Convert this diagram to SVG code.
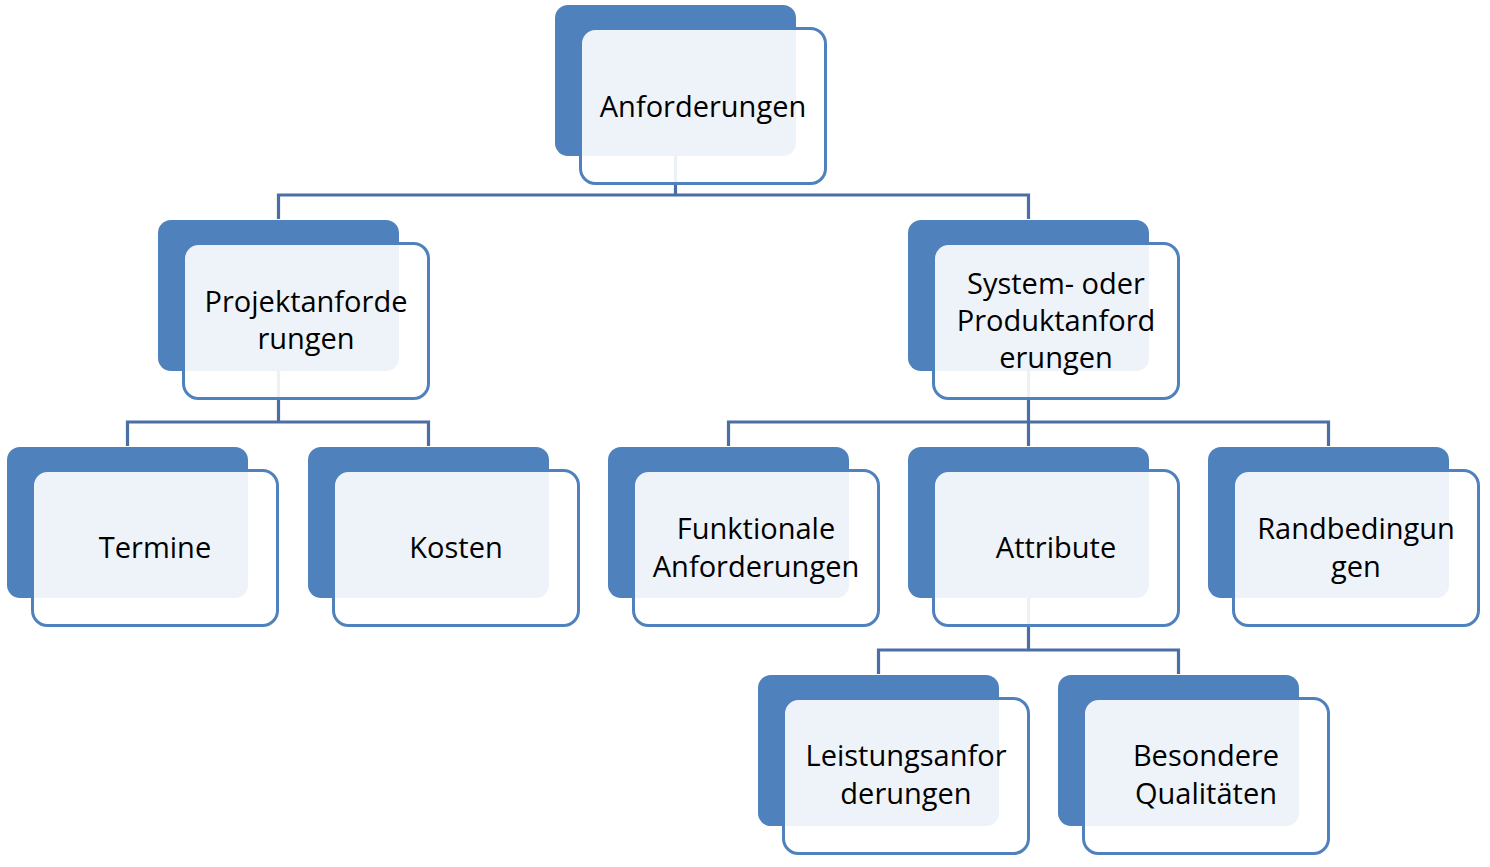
<svg xmlns="http://www.w3.org/2000/svg" width="1490" height="867" viewBox="0 0 1490 867">
<style>
.back{fill:#4F81BD}
.front{fill:#FFFFFF;fill-opacity:0.9;stroke:#4F81BD;stroke-width:3}
.conn{fill:none;stroke:#4A6FA5;stroke-width:3.2}
text{font-family:"Open Sans","Liberation Sans",sans-serif;font-size:29px;fill:#000000;text-anchor:middle}
</style>
<rect width="1490" height="867" fill="#FFFFFF"/>
<g id="connectors">
<path class="conn" d="M675.5,156 V195 M278.5,219 V195 H1028.5 V219"/>
<path class="conn" d="M278.5,371 V422 M127.5,446 V422 H428.5 V446"/>
<path class="conn" d="M1028.5,371 V422 M728.5,446 V422 H1328.5 V446 M1028.5,422 V446"/>
<path class="conn" d="M1028.5,598 V650 M878.5,674 V650 H1178.5 V674"/>
</g>
<g id="n-anforderungen">
<rect class="back" x="555" y="5" width="241" height="151" rx="13"/>
<rect class="front" x="580.5" y="28.5" width="245" height="155" rx="15"/>
<text x="703" y="117">Anforderungen</text>
</g>
<g id="n-projekt">
<rect class="back" x="158" y="220" width="241" height="151" rx="13"/>
<rect class="front" x="183.5" y="243.5" width="245" height="155" rx="15"/>
<text x="306" y="312">Projektanforde</text>
<text x="306" y="349">rungen</text>
</g>
<g id="n-system">
<rect class="back" x="908" y="220" width="241" height="151" rx="13"/>
<rect class="front" x="933.5" y="243.5" width="245" height="155" rx="15"/>
<text x="1056" y="294">System- oder</text>
<text x="1056" y="331">Produktanford</text>
<text x="1056" y="368">erungen</text>
</g>
<g id="n-termine">
<rect class="back" x="7" y="447" width="241" height="151" rx="13"/>
<rect class="front" x="32.5" y="470.5" width="245" height="155" rx="15"/>
<text x="155" y="558">Termine</text>
</g>
<g id="n-kosten">
<rect class="back" x="308" y="447" width="241" height="151" rx="13"/>
<rect class="front" x="333.5" y="470.5" width="245" height="155" rx="15"/>
<text x="456" y="558">Kosten</text>
</g>
<g id="n-funktionale">
<rect class="back" x="608" y="447" width="241" height="151" rx="13"/>
<rect class="front" x="633.5" y="470.5" width="245" height="155" rx="15"/>
<text x="756" y="539">Funktionale</text>
<text x="756" y="577">Anforderungen</text>
</g>
<g id="n-attribute">
<rect class="back" x="908" y="447" width="241" height="151" rx="13"/>
<rect class="front" x="933.5" y="470.5" width="245" height="155" rx="15"/>
<text x="1056" y="558">Attribute</text>
</g>
<g id="n-randbedingungen">
<rect class="back" x="1208" y="447" width="241" height="151" rx="13"/>
<rect class="front" x="1233.5" y="470.5" width="245" height="155" rx="15"/>
<text x="1356" y="539">Randbedingun</text>
<text x="1356" y="577">gen</text>
</g>
<g id="n-leistung">
<rect class="back" x="758" y="675" width="241" height="151" rx="13"/>
<rect class="front" x="783.5" y="698.5" width="245" height="155" rx="15"/>
<text x="906" y="766">Leistungsanfor</text>
<text x="906" y="804">derungen</text>
</g>
<g id="n-besondere">
<rect class="back" x="1058" y="675" width="241" height="151" rx="13"/>
<rect class="front" x="1083.5" y="698.5" width="245" height="155" rx="15"/>
<text x="1206" y="766">Besondere</text>
<text x="1206" y="804">Qualitäten</text>
</g>
</svg>
